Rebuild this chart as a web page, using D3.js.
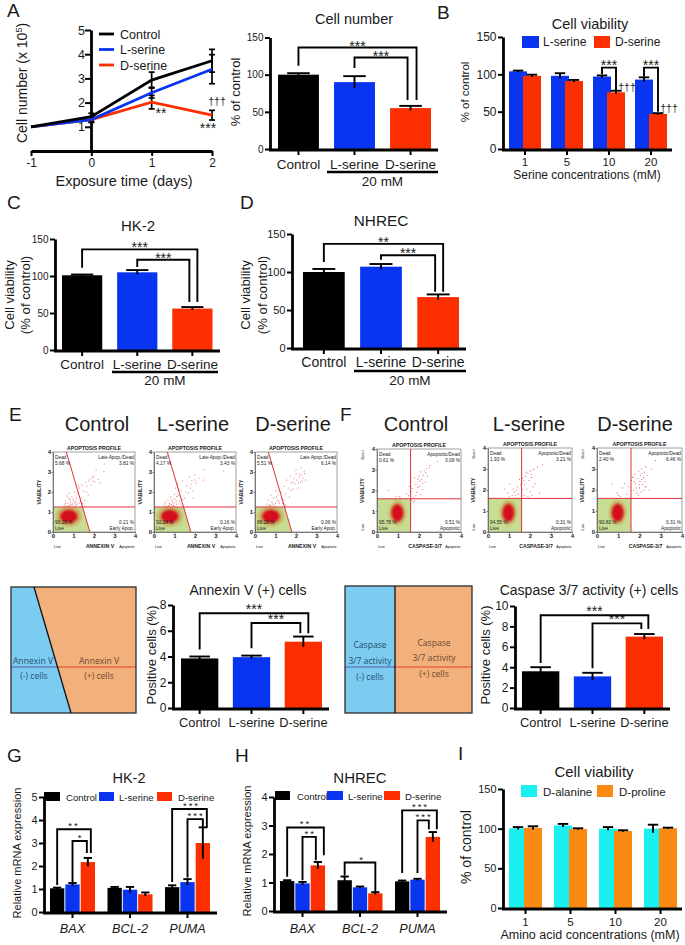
<!DOCTYPE html>
<html><head><meta charset="utf-8">
<style>html,body{margin:0;padding:0;background:#fff}svg{display:block}text{font-family:"Liberation Sans",Arial,sans-serif;fill:#1a1a1a}</style>
<script src="https://cdn.jsdelivr.net/npm/d3@7"></script></head><body>
<script>
// ---------- data ----------
const BLACK="#000000",BLUE="#0a35f0",RED="#fb2f00",CYAN="#1af0f0",ORANGE="#fa8a12";
const treatments=["Control","L-serine","D-serine"];
const days=[-1,0,1,2];
const growthControl=[1.0,1.42,2.93,3.73], growthControlErr=[0,0.14,0.33,0.47];
const growthLserine=[1.0,1.3,2.41,3.38], growthLserineErr=[0,0.12,0.22,0.6];
const growthDserine=[1.0,1.3,2.02,1.48], growthDserineErr=[0,0.1,0.28,0.2];
const cellNumber=[100,90,55], cellNumberErr=[2,8,3];
const serineConc=["1","5","10","20"];
const viabL=[104,98,97,93], viabLErr=[1,3.5,1.5,3];
const viabD=[98,91,76,47], viabDErr=[1.5,1.5,2,1];
const hk2Viab=[101,105,56], hk2ViabErr=[1,3,2];
const nhrecViab=[100,107,67], nhrecViabErr=[4,3.5,3.5];
const annexinPos=[3.85,3.95,5.15], annexinPosErr=[0.15,0.12,0.4];
const caspasePos=[3.6,3.1,7.0], caspasePosErr=[0.4,0.35,0.25];
const genes=["BAX","BCL-2","PUMA"];
const hk2Ctl=[1.03,1.05,1.08], hk2CtlErr=[0.03,0.04,0.08];
const hk2L=[1.2,0.97,1.3], hk2LErr=[0.06,0.12,0.13];
const hk2D=[2.17,0.77,3.0], hk2DErr=[0.18,0.08,0.68];
const nhCtl=[1.05,1.08,1.04], nhCtlErr=[0.03,0.13,0.03];
const nhL=[0.97,0.83,1.1], nhLErr=[0.05,0.03,0.03];
const nhD=[1.6,0.62,2.6], nhDErr=[0.12,0.04,0.17];
const aminoConc=["1","5","10","20"];
const alanine=[100.5,104,100,100], alanineErr=[1.5,2,2,5];
const proline=[101,99.5,97,100.5], prolineErr=[2,1,1,0.8];
// flow cytometry: sparse events, [signal, viability]
const evE1=[[.55,1.35],[.62,1.55],[.68,1.8],[.72,1.45],[.78,1.95],[.82,1.62],[.88,1.38],[.92,1.75],[1.0,1.5],[1.05,2.0],[1.1,1.35],[1.15,1.7],[1.22,1.95],[1.28,1.45],[1.3,2.2],[1.38,1.7],[1.42,2.35],[1.5,2.05],[1.55,1.6],[1.6,2.5],[1.66,2.3],[1.72,1.85],[1.8,2.65],[1.85,2.35],[1.92,2.72],[2.0,2.8],[2.05,2.5],[2.1,3.1],[2.2,2.62],[2.28,2.45],[2.48,3.02],[2.5,3.4],[1.55,1.3],[1.4,1.3],[.7,1.3],[.8,1.32],[.85,1.5],[.95,1.4],[.98,1.62],[1.08,1.45],[1.12,1.55],[1.18,1.4],[1.35,1.52],[1.45,1.42],[.6,1.42],[.75,1.7],[1.25,2.3],[1.65,2.0],[1.75,2.55],[1.95,2.55]];
const evE2=[[.5,1.4],[.6,1.3],[.68,1.6],[.75,1.42],[.82,1.75],[.9,1.5],[.95,1.32],[1.0,1.9],[1.02,1.65],[1.05,2.2],[1.1,1.4],[1.15,2.4],[1.2,1.85],[1.25,1.55],[1.32,2.05],[1.4,2.55],[1.5,1.7],[1.6,2.3],[1.68,1.95],[1.72,2.75],[1.78,2.2],[1.85,2.55],[1.9,2.05],[1.92,1.7],[1.98,2.85],[2.05,2.45],[2.2,2.7],[2.4,2.6],[2.45,3.1],[3.4,3.05],[1.45,1.3],[.72,1.32],[.85,1.38],[.88,1.6],[.98,1.45],[1.08,1.55],[1.12,1.78],[1.3,1.4],[1.38,1.62],[.55,1.5],[1.22,2.15],[1.55,2.0],[1.8,2.4],[2.0,2.6]];
const evE3=[[.58,1.4],[.65,1.6],[.7,1.35],[.78,1.85],[.82,1.5],[.9,1.7],[.95,1.35],[1.02,2.05],[1.08,1.6],[1.12,1.85],[1.2,1.45],[1.25,2.0],[1.3,1.7],[1.42,2.3],[1.48,1.9],[1.55,2.6],[1.62,2.2],[1.68,1.75],[1.72,2.8],[1.78,2.45],[1.85,2.15],[1.9,2.7],[1.95,2.4],[2.0,2.9],[2.05,2.6],[2.1,2.2],[2.18,2.75],[2.22,2.5],[2.28,2.85],[2.35,2.7],[2.42,2.92],[2.48,2.6],[2.25,3.2],[2.0,3.1],[1.5,1.35],[2.4,3.05],[.75,1.32],[.85,1.4],[1.0,1.45],[1.05,1.75],[1.15,1.55],[1.35,1.42],[1.4,1.6],[1.75,2.1],[2.12,2.45],[2.3,2.55],[2.15,2.9],[1.88,2.5]];
const evF1=[[.55,2.0],[.9,1.7],[1.05,1.72],[1.1,1.65],[1.4,1.85],[1.5,1.75],[1.55,2.2],[1.58,2.42],[1.62,1.95],[1.7,2.1],[1.72,1.45],[1.75,1.65],[1.78,2.6],[1.85,2.3],[1.9,1.9],[1.95,2.55],[2.0,2.7],[2.03,2.2],[2.08,2.9],[2.12,2.55],[2.15,2.05],[2.2,2.75],[2.25,2.95],[2.3,2.4],[2.35,3.05],[2.4,2.7],[2.48,3.1],[2.52,3.2],[2.9,3.4],[1.85,1.75],[2.1,1.8],[1.65,1.55],[1.8,1.5],[1.95,2.15],[2.05,2.45],[2.18,2.35],[2.32,2.85]];
const evF2=[[.8,2.05],[.95,1.85],[1.0,1.7],[1.05,2.3],[1.15,1.75],[1.2,2.05],[1.3,1.75],[1.4,2.15],[1.45,1.8],[1.5,2.5],[1.55,2.25],[1.62,2.0],[1.65,2.55],[1.72,1.75],[1.75,2.25],[1.8,2.65],[1.85,2.05],[1.9,2.8],[1.95,2.45],[2.0,2.9],[2.02,1.9],[2.08,2.6],[2.12,2.95],[2.2,3.0],[2.25,2.3],[2.35,3.1],[2.45,1.85],[2.6,3.2],[2.1,1.75],[1.9,1.7],[1.25,1.9],[1.35,2.0],[1.6,2.35],[1.7,2.45],[1.82,2.85],[2.05,2.75],[2.15,2.15]];
const evF3=[[.7,2.3],[.95,1.85],[1.1,1.7],[1.2,2.1],[1.3,2.3],[1.4,1.8],[1.5,2.15],[1.58,2.0],[1.62,2.45],[1.68,2.6],[1.72,2.0],[1.78,2.75],[1.82,2.3],[1.88,1.85],[1.92,2.55],[1.96,2.9],[2.0,2.1],[2.02,2.4],[2.05,2.7],[2.08,1.9],[2.1,3.0],[2.14,2.25],[2.18,2.6],[2.2,2.0],[2.22,2.85],[2.26,2.4],[2.3,3.1],[2.32,2.15],[2.36,2.7],[2.45,2.0],[2.55,3.0],[2.75,3.4],[1.95,1.75],[1.85,2.1],[1.98,2.25],[2.1,2.5],[2.25,2.15],[2.12,2.8],[1.75,2.4],[1.0,1.75]];
const pctE=[["5.68 %","3.82 %","90.29 %","0.21 %"],["4.17 %","3.43 %","92.24 %","0.16 %"],["5.51 %","6.14 %","88.29 %","0.06 %"]];
const pctF=[["0.61 %","3.09 %","95.78 %","0.51 %"],["1.93 %","3.21 %","94.55 %","0.31 %"],["2.40 %","6.46 %","90.83 %","0.31 %"]];

// ---------- helpers ----------
const svg=d3.select("body").append("svg").attr("width",685).attr("height",945);
const defs=svg.append("defs");
defs.append("filter").attr("id","soft").append("feGaussianBlur").attr("stdDeviation",0.3);
[["halo",1.6],["core",0.8]].forEach(f=>defs.append("filter").attr("id",f[0]).attr("x","-40%").attr("y","-40%").attr("width","180%").attr("height","180%").append("feGaussianBlur").attr("stdDeviation",f[1]));
function T(x,y,s,size,opt={}){const t=svg.append("text").attr("x",x).attr("y",y).attr("font-size",size).attr("text-anchor",opt.a||"middle").text(s);
  if(opt.i)t.attr("font-style","italic");return t;}
function R(x,y,s,size){return svg.append("text").attr("transform",`translate(${x},${y}) rotate(-90)`).attr("font-size",size).attr("text-anchor","middle").text(s);}
function yAxis(y,x0,tv,fs){const g=svg.append("g").attr("transform",`translate(${x0},0)`).call(d3.axisLeft(y).tickValues(tv).tickFormat(d3.format("d")).tickSize(5).tickSizeOuter(0).tickPadding(1.5));
  g.select(".domain").attr("stroke","#000").attr("stroke-width",2.8);g.selectAll(".tick line").attr("stroke","#000").attr("stroke-width",2);
  g.selectAll("text").attr("font-size",fs).attr("font-family",null).attr("fill","#1a1a1a");return g;}
function xAxis(x,yPos,xa,xb,fs,base,ital){const g=svg.append("g").attr("transform",`translate(0,${yPos})`).call(d3.axisBottom(x).tickSize(5).tickSizeOuter(0));
  g.select(".domain").attr("d",`M${xa},0H${xb}`).attr("stroke","#000").attr("stroke-width",2.8);
  g.selectAll(".tick line").attr("stroke","#000").attr("stroke-width",2);
  g.selectAll("text").attr("font-size",fs).attr("y",base).attr("dy",0).attr("fill","#1a1a1a");
  if(ital)g.selectAll("text").attr("font-style","italic");return g;}
function errBar(cx,y,v,e,capW){const l=svg.append("g").attr("stroke","#000").attr("stroke-width",1.9).attr("fill","none");
  l.append("line").attr("x1",cx).attr("x2",cx).attr("y1",y(v+e)).attr("y2",y(v-e));
  l.append("line").attr("x1",cx-capW/2).attr("x2",cx+capW/2).attr("y1",y(v+e)).attr("y2",y(v+e));}
function bracket(b,xOf,y,starSize=14,spacing=0){
  const xa=xOf(b.a)+(b.da||0),xb=xOf(b.b)+(b.db||0);
  const p=d3.path();p.moveTo(xa,y(b.ya));p.lineTo(xa,y(b.top));p.lineTo(xb,y(b.top));p.lineTo(xb,y(b.yb));
  svg.append("path").attr("d",p.toString()).attr("fill","none").attr("stroke","#000").attr("stroke-width",1.9);
  T((xa+xb)/2+(b.sx||0),y(b.top)+(b.sy===undefined?3:b.sy),b.s,starSize).attr("letter-spacing",spacing);}
function simpleBars(o){
  const y=d3.scaleLinear().domain([0,o.max]).range([o.y0,o.yTop]);
  const x=d3.scaleBand().domain(treatments).range([o.x0,o.x1]).paddingInner(o.pad);
  svg.append("g").selectAll("rect").data(treatments).join("rect").attr("x",d=>x(d)).attr("width",x.bandwidth())
    .attr("y",(d,i)=>y(o.v[i])).attr("height",(d,i)=>o.y0-y(o.v[i])).attr("fill",(d,i)=>[BLACK,BLUE,RED][i]);
  treatments.forEach((d,i)=>errBar(x(d)+x.bandwidth()/2,y,o.v[i],o.e[i],x.bandwidth()*.55));
  xAxis(x,o.y0+1,o.axisX-1,o.xEnd,o.catFs,o.catBase);
  yAxis(y,o.axisX,o.ticks,o.tickFs);
  const xc=d=>x(d)+x.bandwidth()/2;
  o.br.forEach(b=>bracket(b,xc,y));
  if(o.under){svg.append("line").attr("x1",o.under[0]).attr("x2",o.under[1]).attr("y1",o.under[2]).attr("y2",o.under[2]).attr("stroke","#000").attr("stroke-width",2.6);
    T((o.under[0]+o.under[1])/2,o.under[3],"20 mM",13.5);}
}
function groupBars(o){
  const y=d3.scaleLinear().domain([0,o.max]).range([o.y0,o.yTop]);
  const x=d3.scaleBand().domain(o.groups).range([o.x0,o.x1]).paddingInner(o.pad);
  const inner=d3.scaleBand().domain(d3.range(o.series.length)).range([0,x.bandwidth()]).paddingInner(o.innerPad);
  o.series.forEach((s,k)=>{
    svg.append("g").selectAll("rect").data(o.groups).join("rect").attr("x",d=>x(d)+inner(k)).attr("width",inner.bandwidth())
      .attr("y",(d,i)=>y(s.v[i])).attr("height",(d,i)=>o.y0-y(s.v[i])).attr("fill",s.c);
    o.groups.forEach((d,i)=>errBar(x(d)+inner(k)+inner.bandwidth()/2,y,s.v[i],s.e[i],inner.bandwidth()*.58));
  });
  xAxis(x,o.y0+1,o.axisX-1,o.xEnd,o.catFs,o.catBase,o.ital);
  yAxis(y,o.axisX,o.ticks,o.tickFs);
  const xc=k=>{const [g,s]=k;return x(g)+inner(s)+inner.bandwidth()/2;};
  (o.br||[]).forEach(b=>bracket(b,xc,y,o.starFs||14,o.starGap||0));
}
function swatch(x,y,w,h,c){svg.append("rect").attr("x",x).attr("y",y).attr("width",w).attr("height",h).attr("fill",c);}

// ---------- labels ----------
[["A",7,17],["B",437,19],["C",7,209],["D",240,209],["E",9,421],["F",340,421],["G",7,762],["H",235,762],["I",458,760]]
 .forEach(d=>T(d[1],d[2],d[0],19,{a:"start"}));

// ---------- panel A, growth ----------
(function(){
 const x=d3.scaleLinear().domain([-1,2]).range([31,212]),y=d3.scaleLinear().domain([0,5]).range([151,30]);
 const sers=[[growthDserine,growthDserineErr,RED],[growthLserine,growthLserineErr,BLUE],[growthControl,growthControlErr,BLACK]];
 const axX=svg.append("g").attr("transform","translate(0,151)").call(d3.axisBottom(x).tickValues(days).tickFormat(d=>String(d)).tickSize(5).tickSizeOuter(0));
 axX.select(".domain").attr("stroke-width",2.8);axX.selectAll(".tick line").attr("stroke-width",2);
 axX.selectAll("text").attr("font-size",12).attr("y",16).attr("dy",0).attr("fill","#1a1a1a");
 const axY=svg.append("g").attr("transform","translate(91,0)").call(d3.axisLeft(y).tickValues([1,2,3,4,5]).tickFormat(d3.format("d")).tickSize(6).tickSizeOuter(0).tickPadding(0));
 axY.select(".domain").attr("stroke-width",2.8);axY.selectAll(".tick line").attr("stroke-width",2);axY.selectAll("text").attr("font-size",12.5).attr("fill","#1a1a1a");
 const line=d3.line().x((d,i)=>x(days[i])).y(d=>y(d));
 sers.forEach(s=>{days.forEach((d,i)=>{if(s[1][i]>0){const g=svg.append("g").attr("stroke","#000").attr("stroke-width",1.7);
    g.append("line").attr("x1",x(d)).attr("x2",x(d)).attr("y1",y(s[0][i]+s[1][i])).attr("y2",y(s[0][i]-s[1][i]));
    [1,-1].forEach(q=>g.append("line").attr("x1",x(d)-3).attr("x2",x(d)+3).attr("y1",y(s[0][i]+q*s[1][i])).attr("y2",y(s[0][i]+q*s[1][i])));}});});
 sers.forEach(s=>svg.append("path").attr("d",line(s[0])).attr("fill","none").attr("stroke",s[2]).attr("stroke-width",2.8));
 [["Control",BLACK,34],["L-serine",BLUE,49.5],["D-serine",RED,65]].forEach(d=>{
   svg.append("line").attr("x1",99).attr("x2",114).attr("y1",d[2]).attr("y2",d[2]).attr("stroke",d[1]).attr("stroke-width",2.8);
   T(120,d[2]+4.5,d[0],12.5,{a:"start"});});
 T(161,118,"**",14);T(217,105,"†††",10.5);T(208,133,"***",14);
 T(124,186,"Exposure time (days)",14.5);
 const yl=R(27,83,"Cell number (x 10",14);yl.append("tspan").attr("dy",-5).attr("font-size",9).text("5");yl.append("tspan").attr("dy",5).text(")");
})();

// ---------- panel A, bars ----------
T(354,24,"Cell number",14.5);R(240,92,"% of control",13);
simpleBars({v:cellNumber,e:cellNumberErr,max:150,y0:149,yTop:37.5,x0:278,x1:431,pad:.27,axisX:270,xEnd:438,ticks:[0,50,100,150],tickFs:10,catFs:13.5,catBase:19,
 under:[327,438,172,186],
 br:[{a:"Control",b:"D-serine",db:6,top:136.5,ya:112,yb:66,s:"***"},{a:"L-serine",b:"D-serine",db:-3,top:123,ya:109,yb:66,s:"***"}]});

// ---------- panel B ----------
T(590,29,"Cell viability",14.5);R(469,92,"% of control",11.5);
swatch(522,36,17,12,BLUE);T(543,46,"L-serine",12,{a:"start"});swatch(594,36,16,12,RED);T(615,46,"D-serine",12,{a:"start"});
groupBars({groups:serineConc,series:[{v:viabL,e:viabLErr,c:BLUE},{v:viabD,e:viabDErr,c:RED}],max:150,y0:149,yTop:37,x0:509,x1:667,pad:.238,innerPad:-.286,axisX:503,xEnd:672,ticks:[0,50,100,150],tickFs:12,catFs:11.5,catBase:16,
 br:[{a:["10",0],b:["10",1],top:109,ya:100,yb:79,s:"***",sy:2},{a:["20",0],b:["20",1],top:109,ya:97,yb:50,s:"***",sy:2}]});
T(627,91,"†††",10.5);T(669,112,"†††",10.5);
T(587,179,"Serine concentrations (mM)",12);

// ---------- panels C, D ----------
T(138,231,"HK-2",15);R(14,295,"Cell viability",13.2);R(30,295,"(% of control)",13.2);
simpleBars({v:hk2Viab,e:hk2ViabErr,max:150,y0:350,yTop:239,x0:62,x1:212.5,pad:.27,axisX:55,xEnd:220,ticks:[0,50,100,150],tickFs:10,catFs:13.5,catBase:18,
 under:[112,218,372,385],
 br:[{a:"Control",b:"D-serine",db:5,top:136,ya:111,yb:65,s:"***"},{a:"L-serine",b:"D-serine",db:-3,top:122,ya:112,yb:65,s:"***"}]});
T(381,226,"NHREC",15.3);R(250,295,"Cell viability",13.2);R(267,295,"(% of control)",13.2);
simpleBars({v:nhrecViab,e:nhrecViabErr,max:150,y0:348,yTop:234,x0:303,x1:459,pad:.27,axisX:292,xEnd:466,ticks:[0,50,100,150],tickFs:11,catFs:14,catBase:18,
 under:[354,466,371,385],
 br:[{a:"Control",b:"D-serine",db:5,top:137,ya:113,yb:74,s:"**"},{a:"L-serine",b:"D-serine",db:-3,top:122,ya:116,yb:74,s:"***"}]});

// ---------- flow plots ----------
function flow(o){
 const x=d3.scaleLinear().domain([0,4]).range([o.l,o.r]),y=d3.scaleLinear().domain([0,4]).range([o.b,o.t]);
 const g=svg.append("g").attr("filter","url(#soft)");
 const poly=o.kind==="E"?[[0,0],[1.8,0],[1.44,1.25],[0,1.25]]:[[0,0],[1.6,0],[1.6,1.6],[0,1.6]];
 g.append("polygon").attr("points",poly.map(p=>[x(p[0]),y(p[1])].join(",")).join(" ")).attr("fill","#c8dd94");
 g.append("rect").attr("x",o.l).attr("y",o.t).attr("width",o.r-o.l).attr("height",o.b-o.t).attr("fill","none").attr("stroke","#888").attr("stroke-width",.8);
 const rx=Math.abs(x(1)-x(0)),ry=Math.abs(y(1)-y(0));
 g.selectAll("circle").data(o.ev).join("circle").attr("cx",d=>x(d[0])).attr("cy",d=>y(d[1])).attr("r",.55).attr("fill","#e8505a");
 const c=o.kind==="E"?{cx:.77,cy:.78,a:.42,b:.33,ha:.62,hb:.5}:{cx:.97,cy:.92,a:.28,b:.42,ha:.4,hb:.58};
 svg.append("ellipse").attr("cx",x(c.cx)).attr("cy",y(c.cy)).attr("rx",c.ha*rx).attr("ry",c.hb*ry).attr("fill","#c98a3a").attr("opacity",.6).attr("filter","url(#halo)");
 svg.append("ellipse").attr("cx",x(c.cx)).attr("cy",y(c.cy)).attr("rx",c.a*rx).attr("ry",c.b*ry).attr("fill","#d50f1c").attr("filter","url(#core)");
 const q=svg.append("g").attr("stroke","#e0303c").attr("stroke-width",1);
 if(o.kind==="E"){q.append("line").attr("x1",x(.65)).attr("y1",y(4)).attr("x2",x(1.8)).attr("y2",y(0));
   q.append("line").attr("x1",x(0)).attr("x2",x(4)).attr("y1",y(1.25)).attr("y2",y(1.25));}
 else{q.append("line").attr("x1",x(1.6)).attr("x2",x(1.6)).attr("y1",y(0)).attr("y2",y(4));
   q.append("line").attr("x1",x(0)).attr("x2",x(4)).attr("y1",y(1.6)).attr("y2",y(1.6));}
 const ax=svg.append("g").attr("transform",`translate(0,${o.b})`).call(d3.axisBottom(x).tickValues([0,1,2,3,4]).tickFormat(d3.format("d")).tickSize(1.5).tickPadding(.5).tickSizeOuter(0));
 const ay=svg.append("g").attr("transform",`translate(${o.l},0)`).call(d3.axisLeft(y).tickValues([0,1,2,3,4]).tickFormat(d3.format("d")).tickSize(1.5).tickPadding(.5).tickSizeOuter(0));
 [ax,ay].forEach(a=>{a.select(".domain").attr("stroke","#555").attr("stroke-width",.7);a.selectAll("line").attr("stroke","#555").attr("stroke-width",.7);a.selectAll("text").attr("font-size",6).attr("font-weight","bold").attr("fill","#333");});
 const tiny=(X,Y,s,a,fs=4.8,w="normal")=>T(X,Y,s,fs,{a}).attr("font-weight",w).attr("fill","#333");
 tiny((o.l+o.r)/2,o.t-2.5,"APOPTOSIS PROFILE","middle",5.2,"bold");
 const lab=o.kind==="E"?["Late Apop./Dead","Early Apop."]:["Apoptotic/Dead","Apoptotic"];
 tiny(o.l+2,o.t+7,"Dead","start");tiny(o.l+2,o.t+13,o.p[0],"start");
 tiny(o.r-1,o.t+7,lab[0],"end");tiny(o.r-1,o.t+13,o.p[1],"end");
 tiny(o.l+2,o.b-8.5,o.p[2],"start");tiny(o.l+2,o.b-2,"Live","start");
 tiny(o.r-1,o.b-8.5,o.p[3],"end");tiny(o.r-1,o.b-2,lab[1],"end");
 tiny(o.l+1,o.b+15.5,"Live","start",3.8);
 tiny((o.l+o.r)/2+6,o.b+15.5,o.kind==="E"?"ANNEXIN V":"CASPASE-3/7","middle",5.2,"bold");
 tiny(o.r,o.b+15.5,"Apoptotic","end",3.8);
 const rl=(X,Y,s,fs)=>R(X,Y,s,fs).attr("fill","#333");
 rl(o.l-(o.kind==="E"?12:13),(o.t+o.b)/2,"VIABILITY",5.2).attr("font-weight","bold");
 if(o.kind==="F"){rl(o.l-13,o.t+6,"Dead",3.8);rl(o.l-13,o.b-5,"Live",3.8);}
}
[["Control",97],["L-serine",193],["D-serine",293]].forEach(d=>T(d[1],431,d[0],20));
[["Control",416],["L-serine",529],["D-serine",635]].forEach(d=>T(d[1],431,d[0],20));
[[53,135,evE1],[154,236,evE2],[255,337,evE3]].forEach((d,i)=>flow({kind:"E",l:d[0],r:d[1],t:452,b:532,ev:d[2],p:pctE[i]}));
[[377,461,evF1,449],[488,572,evF2,448],[597,682,evF3,448]].forEach((d,i)=>flow({kind:"F",l:d[0],r:d[1],t:d[3],b:532,ev:d[2],p:pctF[i]}));

// ---------- schematics ----------
function schem(l,r,t,b,polyL,polyR,linePts,xsplit){
 svg.append("polygon").attr("points",polyR).attr("fill","#f2b07c");
 svg.append("polygon").attr("points",polyL).attr("fill","#7ccbf1");
 svg.append("line").attr("x1",l).attr("x2",xsplit).attr("y1",667).attr("y2",667).attr("stroke","#5a5fb0").attr("stroke-width",1.2);
 svg.append("line").attr("x1",xsplit).attr("x2",r).attr("y1",667).attr("y2",667).attr("stroke","#e2451f").attr("stroke-width",1.2);
 svg.append("rect").attr("x",l).attr("y",t).attr("width",r-l).attr("height",b-t).attr("fill","none").attr("stroke","#2b2b2b").attr("stroke-width",1.3);
 svg.append("line").attr("x1",linePts[0]).attr("y1",t).attr("x2",linePts[1]).attr("y2",b).attr("stroke","#111").attr("stroke-width",1.3);
}
schem(11,136,587,713,"11,587 34,587 71,713 11,713","34,587 136,587 136,713 71,713",[34,71],58);
schem(345,472,586,713,"345,586 395,586 395,713 345,713","395,586 472,586 472,713 395,713",[395,395],395);
const sc=(x,y,s,c)=>T(x,y,s,8.6).style("font-family","Open Sans").style("fill",c||"#24506c");
sc(33,664,"Annexin V");sc(34,679,"(-) cells");sc(99,664,"Annexin V","#6b4a30");sc(99,679,"(+) cells","#6b4a30");
sc(370,648,"Caspase");sc(370,664,"3/7 activity");sc(370,680,"(-) cells");
sc(434,646,"Caspase","#6b4a30");sc(434,661,"3/7 activity","#6b4a30");sc(434,677,"(+) cells","#6b4a30");

// ---------- positive-cell bars ----------
T(248,595,"Annexin V (+) cells",14);R(156,655,"Positive cells (%)",13);
simpleBars({v:annexinPos,e:annexinPosErr,max:8,y0:708,yTop:605,x0:181,x1:322,pad:.28,axisX:173,xEnd:329,ticks:[0,2,4,6,8],tickFs:12,catFs:12.8,catBase:18,
 br:[{a:"Control",b:"D-serine",db:5,top:7.36,ya:4.55,yb:5.8,s:"***",sy:1},{a:"L-serine",b:"D-serine",db:-3,top:6.6,ya:4.65,yb:5.8,s:"***",sy:1}]});
T(589,595,"Caspase 3/7 activity (+) cells",14);R(490,655,"Positive cells (%)",13);
simpleBars({v:caspasePos,e:caspasePosErr,max:10,y0:708,yTop:606,x0:522,x1:663,pad:.28,axisX:515,xEnd:670,ticks:[0,2,4,6,8,10],tickFs:12,catFs:12.8,catBase:18,
 br:[{a:"Control",b:"D-serine",db:4,top:9.1,ya:4.4,yb:7.75,s:"***",sy:1},{a:"L-serine",b:"D-serine",db:-3,top:8.3,ya:3.9,yb:7.75,s:"***",sy:1}]});

// ---------- panel G ----------
T(129,783,"HK-2",14.5);R(21,853,"Relative mRNA expression",11);
groupBars({groups:genes,series:[{v:hk2Ctl,e:hk2CtlErr,c:BLACK},{v:hk2L,e:hk2LErr,c:BLUE},{v:hk2D,e:hk2DErr,c:RED}],max:5,y0:912,yTop:797,x0:50,x1:210,pad:.217,innerPad:.065,axisX:44,xEnd:217,ticks:[0,1,2,3,4,5],tickFs:11,catFs:12.7,catBase:20,ital:true,starFs:9.5,starGap:2,
 br:[{a:["BAX",0],b:["BAX",2],db:3,top:3.6,ya:1.17,yb:2.56,s:"**",sy:0},{a:["BAX",1],b:["BAX",2],db:-1,top:3.09,ya:1.3,yb:2.56,s:"*",sx:1,sy:0},
     {a:["PUMA",0],b:["PUMA",2],db:4,top:4.48,ya:1.3,yb:3.65,s:"***",sx:2,sy:0},{a:["PUMA",1],b:["PUMA",2],top:4.04,ya:1.5,yb:3.65,s:"***",sx:1,sy:0}]});
swatch(44,792,16,9,BLACK);T(66,800.5,"Control",9.6,{a:"start"});swatch(99,792,15,9,BLUE);T(119,800.5,"L-serine",9.6,{a:"start"});swatch(157,792,15,9,RED);T(178,800.5,"D-serine",9.6,{a:"start"});

// ---------- panel H ----------
T(360,783,"NHREC",15);R(251,851,"Relative mRNA expression",11);
groupBars({groups:genes,series:[{v:nhCtl,e:nhCtlErr,c:BLACK},{v:nhL,e:nhLErr,c:BLUE},{v:nhD,e:nhDErr,c:RED}],max:4,y0:911,yTop:797,x0:280,x1:440,pad:.217,innerPad:.065,axisX:274,xEnd:447,ticks:[0,1,2,3,4],tickFs:11,catFs:12.7,catBase:21,ital:true,starFs:9.5,starGap:2,
 br:[{a:["BAX",0],b:["BAX",2],db:6,top:2.93,ya:1.2,yb:1.96,s:"**",sy:0},{a:["BAX",1],b:["BAX",2],db:-2,top:2.6,ya:1.08,yb:1.78,s:"**",sx:1,sy:0},
     {a:["BCL-2",0],b:["BCL-2",2],top:1.7,ya:1.25,yb:.67,s:"*",sx:2,sy:0},
     {a:["PUMA",0],b:["PUMA",2],db:4,top:3.53,ya:1.33,yb:2.87,s:"***",sx:1,sy:0},{a:["PUMA",1],b:["PUMA",2],db:-4,top:3.18,ya:1.33,yb:2.87,s:"***",sx:1,sy:0}]});
swatch(275,791,15,9,BLACK);T(297,800,"Control",9.6,{a:"start"});swatch(327,791,16,9,BLUE);T(348,800,"L-serine",9.6,{a:"start"});swatch(384,791,16,9,RED);T(405,800,"D-serine",9.6,{a:"start"});

// ---------- panel I ----------
T(594,777,"Cell viability",15);R(471,847,"% of control",14);
swatch(521,785,16,12,CYAN);T(543,796,"D-alanine",11.5,{a:"start"});swatch(597,785,16,12,ORANGE);T(619,796,"D-proline",11.5,{a:"start"});
groupBars({groups:aminoConc,series:[{v:alanine,e:alanineErr,c:CYAN},{v:proline,e:prolineErr,c:ORANGE}],max:150,y0:908,yTop:789,x0:509,x1:677,pad:.267,innerPad:-.2,axisX:503,xEnd:682,ticks:[0,50,100,150],tickFs:11,catFs:11.5,catBase:17});
T(590,939,"Amino acid concentrations (mM)",12.5);
</script></body></html>
